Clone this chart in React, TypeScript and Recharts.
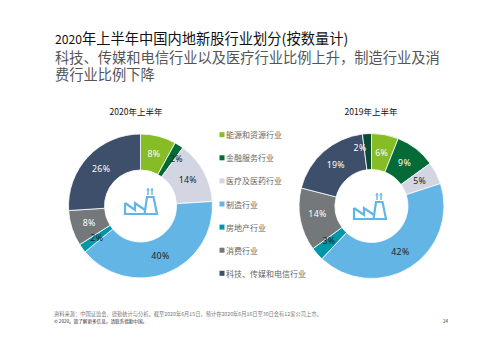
import React from "react";
import { PieChart, Pie, Cell } from "recharts";

const categories = ["能源和资源行业", "金融服务行业", "医疗及医药行业", "制造行业", "房地产行业", "消费行业", "科技、传媒和电信行业"];
const legendColors = ["#86BC25", "#046A38", "#D3D6E2", "#62B5E5", "#0097A9", "#75787B", "#3E4F6B"];

const values2020 = [8, 2, 14, 40, 2, 8, 26];
const colors2020 = ["#86BC25", "#046A38", "#D3D6E2", "#62B5E5", "#0097A9", "#75787B", "#3E4F6B"];
const labelColors2020 = ["#fff", "#222", "#222", "#222", "#222", "#fff", "#fff"];

// 2019 has an extra dark slice at the end of the ring
const values2019 = [6, 9, 5, 42, 3, 14, 19, 2];
const colors2019 = ["#86BC25", "#046A38", "#D3D6E2", "#62B5E5", "#0097A9", "#75787B", "#3E4F6B", "#0B4A33"];
const labelColors2019 = ["#fff", "#fff", "#222", "#222", "#222", "#fff", "#fff", "#fff"];

const title = "年上半年中国内地新股行业划分(按数量计)";
const subtitle = ["科技、传媒和电信行业以及医疗行业比例上升，制造行业及消", "费行业比例下降"];
const source = "资料来源：中国证监会、德勤统计与分析。截至2020年6月15日，预计在2020年6月16日至30日会有12家公司上市。";
const copyright = "© 2020。欲了解更多信息，请联系德勤中国。";

const FONT = "'Noto Sans CJK SC', sans-serif";
const RAD = Math.PI / 180;

// the narrow slices have their labels pushed off the slice
const nudge2020: Record<number, [number, number]> = { 1: [7, -1] };
const nudge2019: Record<number, [number, number]> = { 4: [-2, -1], 5: [-1, -2], 7: [-8, -4] };

const makeLabel = (colors: string[], nudge: Record<number, [number, number]>) => (props: any) => {
  const { cx, cy, midAngle, value, index } = props;
  const r = 54;
  const [dx, dy] = nudge[index] ?? [0, 0];
  return (
    <text
      x={cx + r * Math.cos(-midAngle * RAD) + dx}
      y={cy + r * Math.sin(-midAngle * RAD) + dy}
      fill={colors[index]}
      fontSize={8.8}
      fontFamily="'Noto Sans', sans-serif"
      fontWeight={400}
      letterSpacing={0.3}
      textAnchor="middle"
      dominantBaseline="central"
    >
      {value}%
    </text>
  );
};

const Factory = ({ x, y }: { x: number; y: number }) => (
  <g transform={`translate(${x},${y})`} fill="none" stroke="#62B5E5" strokeWidth={2.2}>
    <path d="M1,-12 L1,-1 L33,-1 L29.5,-18 L23,-18 L20.5,-1 M1,-12 L11,-5 L11,-12 L21,-5" />
    <path d="M24,-20 L24,-26 M28,-20 L28,-26" strokeWidth={1.4} />
    <path d="M22.8,-24.5 L24,-27 L25.2,-24.5 M26.8,-24.5 L28,-27 L29.2,-24.5" strokeWidth={0.9} />
  </g>
);

const App = () => {
  return (
    <div style={{ position: "absolute", left: 0, top: 0, background: "#fff" }}>
      <PieChart width={499} height={353} margin={{ top: 0, left: 0, right: 0, bottom: 0 }}>
        <Pie
          data={values2020.map((v, i) => ({ name: categories[i], value: v }))}
          dataKey="value"
          cx={140.5}
          cy={206}
          innerRadius={36}
          outerRadius={72}
          startAngle={90}
          endAngle={-270}
          stroke="#fff"
          strokeWidth={0.8}
          label={makeLabel(labelColors2020, nudge2020)}
          labelLine={false}
          isAnimationActive={false}
        >
          {colors2020.map((c) => (
            <Cell key={c} fill={c} />
          ))}
        </Pie>
        <Pie
          data={values2019.map((v, i) => ({ name: categories[i] ?? categories[1], value: v }))}
          dataKey="value"
          cx={371.5}
          cy={206}
          innerRadius={36.5}
          outerRadius={72.5}
          startAngle={90}
          endAngle={-270}
          stroke="#fff"
          strokeWidth={0.8}
          label={makeLabel(labelColors2019, nudge2019)}
          labelLine={false}
          isAnimationActive={false}
        >
          {colors2019.map((c) => (
            <Cell key={c} fill={c} />
          ))}
        </Pie>

        <Factory x={124} y={215} />
        <Factory x={353} y={220} />

        <g fontFamily={FONT}>
          <text x={55} y={44} fontSize={14.25} fill="#111">
            <tspan fontSize={12.2}>2020</tspan>
            {title}
          </text>
          <text x={55} y={63} fontSize={14.25} fill="#555">{subtitle[0]}</text>
          <text x={55} y={80} fontSize={14.25} fill="#555">{subtitle[1]}</text>
          <text x={136} y={115} fontSize={8.5} fill="#111" textAnchor="middle">2020年上半年</text>
          <text x={371} y={115} fontSize={8.5} fill="#111" textAnchor="middle">2019年上半年</text>

          {categories.map((name, i) => (
            <g key={name}>
              <rect x={219.5} y={132.2 + i * 23.1} width={5} height={5} fill={legendColors[i]} />
              <text x={226} y={134.7 + i * 23.1} fontSize={8} fill="#666" dominantBaseline="central">{name}</text>
            </g>
          ))}

          <text x={54} y={316} fontSize={5.25} fill="#777">{source}</text>
          <text x={54} y={322.5} fontSize={4.6} fill="#333">{copyright}</text>
          <text x={443} y={322.5} fontSize={4.6} fill="#333">24</text>
        </g>
      </PieChart>
    </div>
  );
};

export default App;
